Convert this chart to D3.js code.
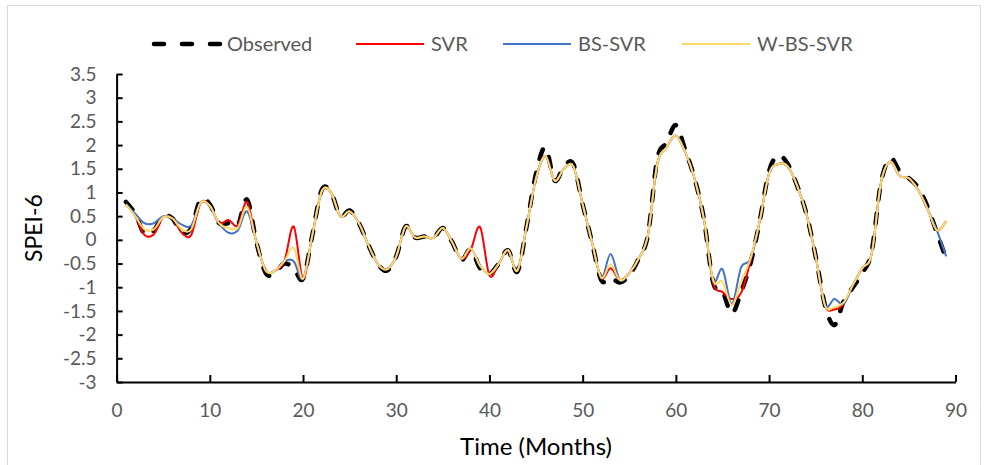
<!DOCTYPE html>
<html>
<head>
<meta charset="utf-8">
<script src="https://cdn.jsdelivr.net/npm/d3@7"></script>
<style>
  body { margin: 0; background: #fff; }
  svg { font-family: Lato, "Open Sans", sans-serif; }
</style>
</head>
<body>
<svg width="988" height="465"></svg>
<script>
// months 1..89
var months = d3.range(1, 90);

var observed = [0.8, 0.55, 0.12, 0.2, 0.5, 0.45, 0.15, 0.25, 0.85, 0.75,
  0.35, 0.35, 0.3, 0.85, -0.05, -0.7, -0.7, -0.5, -0.6, -0.82,
  0.1, 1.05, 1.0, 0.5, 0.62, 0.35, -0.1, -0.5, -0.65, -0.35,
  0.28, 0.05, 0.07, 0.04, 0.25, -0.05, -0.42, -0.2, -0.6, -0.72,
  -0.5, -0.22, -0.67, 0.3, 1.4, 1.95, 1.25, 1.55, 1.6, 0.75,
  -0.05, -0.85, -0.8, -0.9, -0.75, -0.4, 0.1, 1.7, 2.05, 2.42,
  1.9, 1.3, 0.45, -0.9, -1.08, -1.55, -1.1, -0.5, 0.4, 1.45,
  1.78, 1.6, 1.15, 0.55, -0.35, -1.38, -1.8, -1.3, -1.0, -0.7,
  -0.25, 1.2, 1.72, 1.45, 1.3, 1.1, 0.7, 0.15, -0.4];

var svr = [0.75, 0.5, 0.1, 0.12, 0.48, 0.45, 0.15, 0.1, 0.78, 0.72,
  0.35, 0.42, 0.3, 0.8, -0.05, -0.65, -0.65, -0.45, 0.28, -0.82,
  0.1, 1.02, 1.0, 0.5, 0.6, 0.35, -0.1, -0.5, -0.62, -0.35,
  0.28, 0.05, 0.07, 0.04, 0.25, -0.05, -0.4, -0.2, 0.27, -0.75,
  -0.5, -0.22, -0.65, 0.3, 1.3, 1.77, 1.25, 1.5, 1.55, 0.75,
  -0.05, -0.8, -0.6, -0.85, -0.7, -0.4, 0.1, 1.6, 1.95, 2.2,
  1.85, 1.3, 0.45, -0.9, -1.1, -1.25, -1.12, -0.45, 0.4, 1.4,
  1.6, 1.55, 1.15, 0.55, -0.35, -1.38, -1.47, -1.35, -0.95, -0.6,
  -0.3, 1.2, 1.65, 1.35, 1.3, 1.05, 0.65, 0.2, 0.4];

var bsSvr = [0.75, 0.55, 0.35, 0.35, 0.5, 0.45, 0.32, 0.3, 0.78, 0.72,
  0.35, 0.15, 0.2, 0.6, -0.05, -0.65, -0.65, -0.45, -0.45, -0.82,
  0.1, 1.02, 1.0, 0.5, 0.6, 0.35, -0.1, -0.5, -0.62, -0.35,
  0.28, 0.05, 0.07, 0.04, 0.25, -0.05, -0.4, -0.18, -0.55, -0.72,
  -0.5, -0.22, -0.65, 0.3, 1.3, 1.77, 1.25, 1.5, 1.55, 0.75,
  -0.05, -0.8, -0.3, -0.85, -0.7, -0.4, 0.1, 1.6, 1.95, 2.2,
  1.85, 1.3, 0.45, -0.85, -0.62, -1.35, -0.58, -0.4, 0.4, 1.4,
  1.6, 1.55, 1.15, 0.55, -0.35, -1.38, -1.25, -1.35, -0.95, -0.6,
  -0.3, 1.2, 1.65, 1.35, 1.3, 1.05, 0.65, 0.2, -0.35];

var wBsSvr = [0.75, 0.5, 0.22, 0.22, 0.48, 0.45, 0.22, 0.22, 0.78, 0.72,
  0.35, 0.25, 0.25, 0.7, -0.05, -0.65, -0.65, -0.45, -0.17, -0.82,
  0.1, 1.02, 1.0, 0.5, 0.6, 0.35, -0.1, -0.5, -0.62, -0.35,
  0.28, 0.05, 0.07, 0.04, 0.25, -0.05, -0.4, -0.18, -0.55, -0.72,
  -0.5, -0.22, -0.65, 0.3, 1.3, 1.77, 1.25, 1.5, 1.55, 0.75,
  -0.05, -0.8, -0.52, -0.85, -0.7, -0.4, 0.1, 1.6, 1.95, 2.2,
  1.85, 1.3, 0.45, -0.85, -0.88, -1.38, -0.88, -0.4, 0.4, 1.4,
  1.6, 1.55, 1.15, 0.55, -0.35, -1.38, -1.42, -1.32, -0.95, -0.6,
  -0.3, 1.2, 1.65, 1.35, 1.3, 1.05, 0.65, 0.2, 0.4];

var seriesNames = ["Observed", "SVR", "BS-SVR", "W-BS-SVR"];
var seriesColors = ["#000000", "#ff0000", "#4472c4", "#ffd966"];
var xTicks = d3.range(0, 91, 10);
var yTicks = d3.range(-3, 3.51, 0.5);

var svg = d3.select("svg");

// chart frame
svg.append("rect")
    .attr("x", 7.5).attr("y", 5.5)
    .attr("width", 973).attr("height", 470)
    .attr("fill", "none")
    .attr("stroke", "#d9d9d9");

var x = d3.scaleLinear().domain([0, 90]).range([116.6, 955.5]);
var y = d3.scaleLinear().domain([-3, 3.5]).range([382, 74]);

var xAxis = svg.append("g")
    .attr("transform", "translate(0,382)")
    .call(d3.axisBottom(x).tickValues(xTicks).tickSize(-7).tickSizeOuter(0).tickPadding(22));

var yAxis = svg.append("g")
    .attr("transform", "translate(116.6,0)")
    .call(d3.axisLeft(y).tickValues(yTicks).tickSize(-6).tickSizeOuter(0).tickPadding(20)
      .tickFormat(function(d) { return String(d); }));

[xAxis, yAxis].forEach(function(g) {
  g.selectAll("path, line").attr("stroke", "#000").attr("stroke-width", 2);
  g.selectAll("text").attr("fill", "#595959").style("font-size", "19px")
      .style("font-family", "Lato, sans-serif");
});

var data = [observed, svr, bsSvr, wBsSvr];

var line = d3.line()
    .x(function(d, i) { return x(months[i]); })
    .y(function(d) { return y(d); })
    .curve(d3.curveCardinal.tension(0));

svg.append("g").selectAll("path")
    .data(data)
    .enter().append("path")
      .attr("d", line)
      .attr("fill", "none")
      .attr("stroke", function(d, i) { return seriesColors[i]; })
      .attr("stroke-width", function(d, i) { return i == 0 ? 4.5 : 2; })
      .attr("stroke-dasharray", function(d, i) { return i == 0 ? "10,14" : null; })
      .attr("stroke-linecap", function(d, i) { return i == 0 ? "round" : "butt"; });

// legend
var legendX = [152, 356, 503, 682];
var legend = svg.append("g").selectAll("g")
    .data(seriesNames)
    .enter().append("g")
      .attr("transform", function(d, i) { return "translate(" + legendX[i] + ",44)"; });

legend.append("line")
    .attr("x1", function(d, i) { return i == 0 ? 2 : 0; })
    .attr("x2", function(d, i) { return i == 0 ? 68 : 68; })
    .attr("stroke", function(d, i) { return seriesColors[i]; })
    .attr("stroke-width", function(d, i) { return i == 0 ? 4.5 : 2; })
    .attr("stroke-dasharray", function(d, i) { return i == 0 ? "10,18" : null; })
    .attr("stroke-linecap", function(d, i) { return i == 0 ? "round" : "butt"; });

legend.append("text")
    .attr("x", 75)
    .attr("dy", "0.35em")
    .attr("fill", "#595959")
    .style("font-size", "20px")
    .text(function(d) { return d; });

// axis titles
svg.append("text")
    .attr("x", 536).attr("y", 455)
    .attr("text-anchor", "middle")
    .style("font-size", "24px")
    .attr("fill", "#000")
    .text("Time (Months)");

svg.append("text")
    .attr("transform", "translate(42,228) rotate(-90)")
    .attr("text-anchor", "middle")
    .style("font-size", "23px")
    .attr("fill", "#000")
    .text("SPEI-6");
</script>
</body>
</html>
